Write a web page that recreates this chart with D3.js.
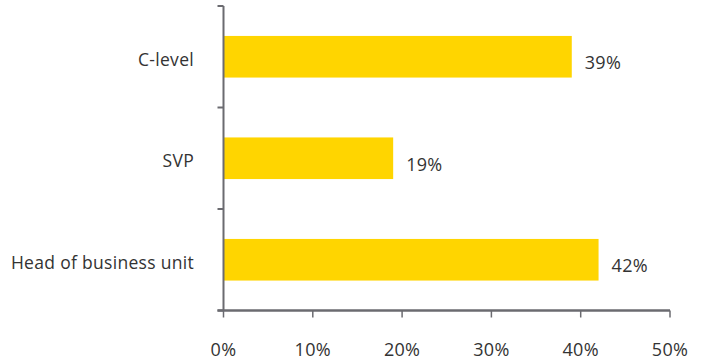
<!DOCTYPE html>
<html>
<head>
<meta charset="utf-8">
<script src="https://cdn.jsdelivr.net/npm/d3@7"></script>
<style>
  html, body { margin: 0; padding: 0; background: #fff; }
  svg text { font-family: "Open Sans", "DejaVu Sans", sans-serif; fill: #333; }
</style>
</head>
<body>
<svg id="chart" width="705" height="362"></svg>
<script>
// Share of respondents by role
const categories = ["C-level", "SVP", "Head of business unit"];
const values = [39, 19, 42];
const xTicks = [0, 10, 20, 30, 40, 50];

const svg = d3.select("#chart");
const margin = { left: 223.5, right: 35, top: 6, bottom: 51.5 };
const width = 705, height = 362;

const x = d3.scaleLinear().domain([0, 50]).range([margin.left, width - margin.right]);
const y = d3.scaleBand().domain(categories)
  .range([margin.top, height - margin.bottom])
  .paddingInner(0.59).paddingOuter(0.295);

const axisColor = "#6b6b70";

// bars
svg.append("g").selectAll("rect")
  .data(categories)
  .join("rect")
  .attr("x", x(0))
  .attr("y", d => y(d))
  .attr("width", (d, i) => x(values[i]) - x(0))
  .attr("height", y.bandwidth())
  .attr("fill", "#FFD500");

// value labels
svg.append("g").selectAll("text")
  .data(categories)
  .join("text")
  .attr("x", (d, i) => x(values[i]) + 13)
  .attr("y", d => y(d) + y.bandwidth() / 2 + 12.5)
  .attr("font-size", 18)
  .attr("letter-spacing", 0.3)
  .text((d, i) => values[i] + "%");

// y axis: line with ticks on band boundaries
const yTop = margin.top, yBot = height - margin.bottom;
const bounds = d3.range(categories.length + 1).map(i => yTop + i * (yBot - yTop) / categories.length);
const gy = svg.append("g");
gy.append("line").attr("x1", x(0)).attr("x2", x(0)).attr("y1", yTop).attr("y2", yBot)
  .attr("stroke", axisColor).attr("stroke-width", 2);
gy.selectAll("line.tick").data(bounds).join("line").attr("class", "tick")
  .attr("x1", x(0) - 6).attr("x2", x(0)).attr("y1", d => d).attr("y2", d => d)
  .attr("stroke", axisColor).attr("stroke-width", 2);
gy.selectAll("text").data(categories).join("text")
  .attr("x", 194).attr("y", d => y(d) + y.bandwidth() / 2 + 9)
  .attr("text-anchor", "end").attr("font-size", 17.5).attr("letter-spacing", 0.3)
  .text(d => d);

// x axis
const gx = svg.append("g");
gx.append("line").attr("x1", x(0) - 6).attr("x2", x(50)).attr("y1", yBot).attr("y2", yBot)
  .attr("stroke", axisColor).attr("stroke-width", 2.5);
gx.selectAll("line.tick").data(xTicks).join("line").attr("class", "tick")
  .attr("x1", d => x(d)).attr("x2", d => x(d)).attr("y1", yBot).attr("y2", yBot + 7)
  .attr("stroke", axisColor).attr("stroke-width", 1.5);
gx.selectAll("text").data(xTicks).join("text")
  .attr("x", d => x(d)).attr("y", 356)
  .attr("text-anchor", "middle").attr("font-size", 18).attr("letter-spacing", 0.3)
  .text(d => d + "%");
</script>
</body>
</html>
